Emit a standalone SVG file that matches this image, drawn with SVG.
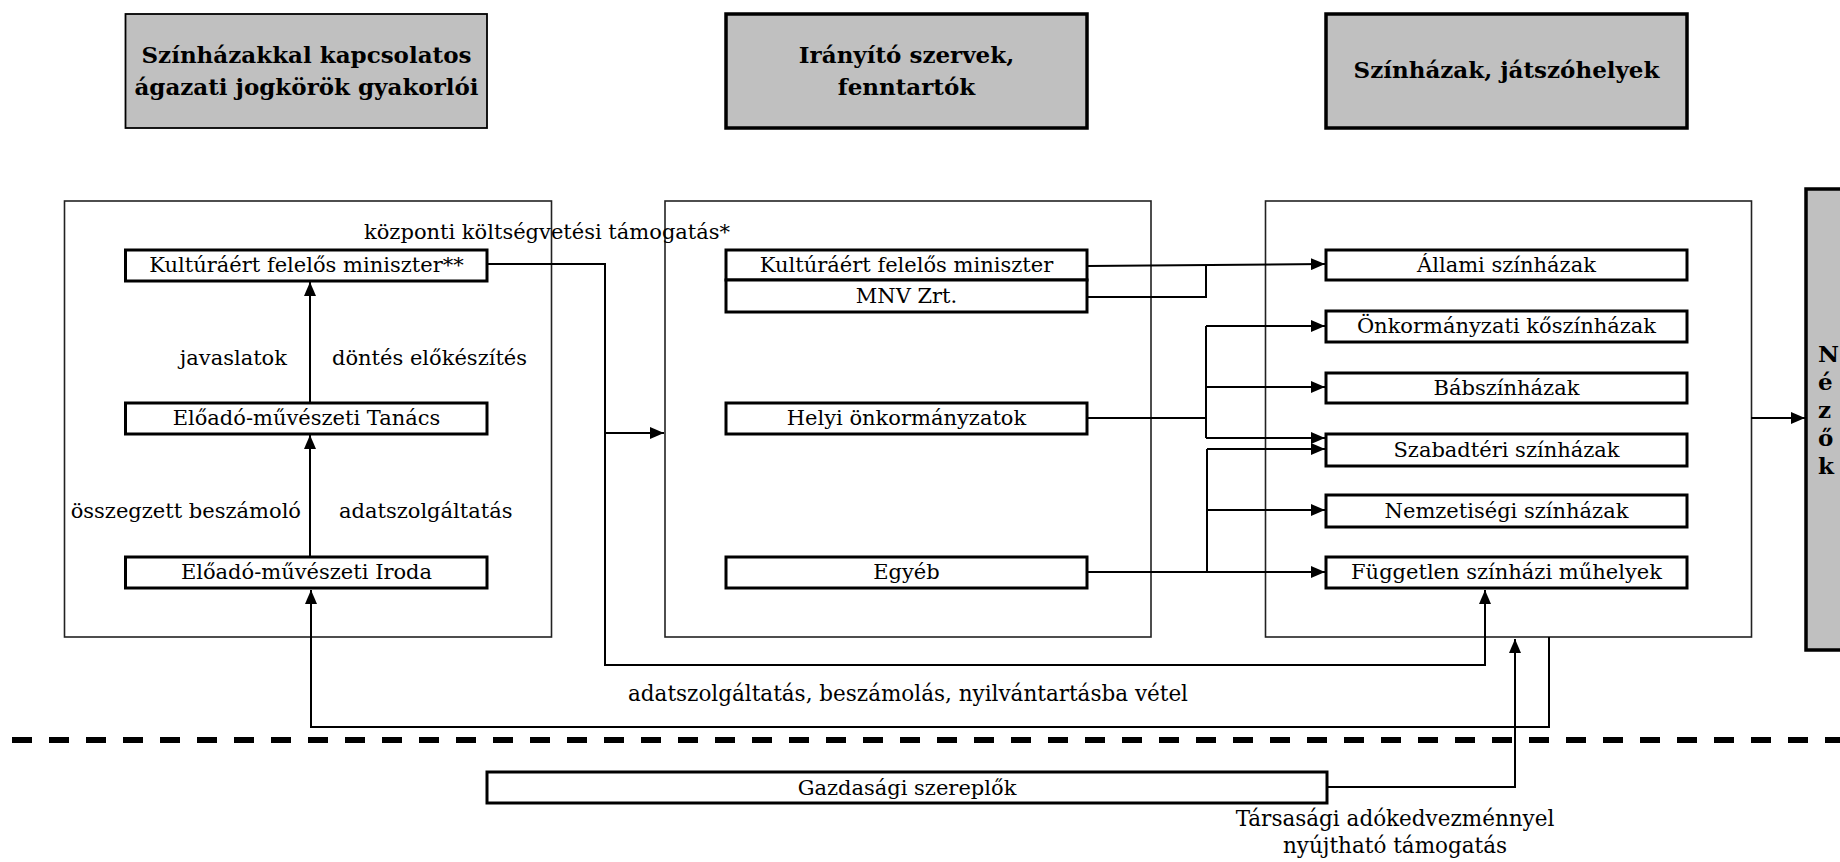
<svg xmlns="http://www.w3.org/2000/svg" width="1840" height="862" viewBox="0 0 1840 862">
<style>
.hdr{fill:#c0c0c0;stroke:#000}
.cont{fill:none;stroke:#222;stroke-width:1.6}
.node{fill:#fff;stroke:#000;stroke-width:3}
.t{font-family:"DejaVu Serif",serif;font-size:21px;fill:#000}
.c{text-anchor:middle}
.b{font-family:"DejaVu Serif",serif;font-size:23px;font-weight:bold;fill:#000;text-anchor:middle}
.nb{font-family:"DejaVu Serif",serif;font-size:23px;font-weight:bold;fill:#000}
.ln{fill:none;stroke:#000;stroke-width:2}
.ar{marker-end:url(#ah)}
</style>
<defs>
<marker id="ah" markerUnits="userSpaceOnUse" markerWidth="14" markerHeight="12" refX="14" refY="6" orient="auto">
<path d="M0,0 L14,6 L0,12 z" fill="#000"/>
</marker>
</defs>
<rect width="1840" height="862" fill="#fff"/>

<g id="hdr1"><rect class="hdr" x="125.5" y="14" width="361.5" height="114" stroke-width="1.8"/>
<text class="b" x="306.5" y="63">Színházakkal kapcsolatos</text>
<text class="b" x="306.5" y="95">ágazati jogkörök gyakorlói</text></g>
<g id="hdr2"><rect class="hdr" x="726" y="14" width="361" height="114" stroke-width="3.5"/>
<text class="b" x="906.5" y="63">Irányító szervek,</text>
<text class="b" x="906.5" y="95">fenntartók</text></g>
<g id="hdr3"><rect class="hdr" x="1326" y="14" width="361" height="114" stroke-width="3.5"/>
<text class="b" x="1506.5" y="78">Színházak, játszóhelyek</text></g>

<g id="contA"><rect class="cont" x="64.5" y="201" width="487" height="436"/></g>
<g id="contB"><rect class="cont" x="665" y="201" width="486" height="436"/></g>
<g id="contC"><rect class="cont" x="1265.5" y="201" width="486" height="436"/></g>

<g id="nezok"><rect class="hdr" x="1806" y="189" width="60" height="461" stroke-width="3.5"/>
<text class="nb" x="1818" y="362">N</text>
<text class="nb" x="1818" y="390">é</text>
<text class="nb" x="1818" y="418">z</text>
<text class="nb" x="1818" y="446">ő</text>
<text class="nb" x="1818" y="474">k</text></g>

<g id="a1"><rect class="node" x="125.5" y="250" width="361.5" height="31"/><text class="t c" x="306.5" y="272">Kultúráért felelős miniszter**</text></g>
<g id="a2"><rect class="node" x="125.5" y="403" width="361.5" height="31"/><text class="t c" x="306.5" y="425">Előadó-művészeti Tanács</text></g>
<g id="a3"><rect class="node" x="125.5" y="557" width="361.5" height="31"/><text class="t c" x="306.5" y="579">Előadó-művészeti Iroda</text></g>

<g id="b1"><rect class="node" x="726" y="250" width="361" height="30"/><text class="t c" x="906.5" y="272">Kultúráért felelős miniszter</text></g>
<g id="b2"><rect class="node" x="726" y="280" width="361" height="32"/><text class="t c" x="906.5" y="303">MNV Zrt.</text></g>
<g id="b3"><rect class="node" x="726" y="403" width="361" height="31"/><text class="t c" x="906.5" y="425">Helyi önkormányzatok</text></g>
<g id="b4"><rect class="node" x="726" y="557" width="361" height="31"/><text class="t c" x="906.5" y="579">Egyéb</text></g>

<g id="c1"><rect class="node" x="1326" y="250" width="361" height="30"/><text class="t c" x="1506.5" y="272">Állami színházak</text></g>
<g id="c2"><rect class="node" x="1326" y="311" width="361" height="31"/><text class="t c" x="1506.5" y="333">Önkormányzati kőszínházak</text></g>
<g id="c3"><rect class="node" x="1326" y="373" width="361" height="30"/><text class="t c" x="1506.5" y="395">Bábszínházak</text></g>
<g id="c4"><rect class="node" x="1326" y="434" width="361" height="32"/><text class="t c" x="1506.5" y="457">Szabadtéri színházak</text></g>
<g id="c5"><rect class="node" x="1326" y="495" width="361" height="32"/><text class="t c" x="1506.5" y="518">Nemzetiségi színházak</text></g>
<g id="c6"><rect class="node" x="1326" y="557" width="361" height="31"/><text class="t c" x="1506.5" y="579">Független színházi műhelyek</text></g>

<g id="gazd"><rect class="node" x="487" y="772" width="840" height="31"/><text class="t c" x="907" y="795">Gazdasági szereplők</text></g>

<g id="connectors">
<path class="ln ar" d="M310,403 V282"/>
<path class="ln ar" d="M310,557 V435"/>
<path class="ln ar" d="M487,264 H605 V665 H1485 V590"/>
<path class="ln ar" d="M605,433 H664"/>
<path class="ln ar" d="M1549,637 V727 H311 V590"/>
<path class="ln ar" d="M1087,266 L1325,264"/>
<path class="ln" d="M1087,297 H1206 V265"/>
<path class="ln" d="M1087,418 H1206 M1206,326 V438"/>
<path class="ln ar" d="M1206,326 H1325"/>
<path class="ln ar" d="M1206,387 H1325"/>
<path class="ln ar" d="M1206,438 H1325"/>
<path class="ln" d="M1087,572 H1207 M1207,449 V572"/>
<path class="ln ar" d="M1207,449 H1325"/>
<path class="ln ar" d="M1207,510 H1325"/>
<path class="ln ar" d="M1207,572 H1325"/>
<path class="ln ar" d="M1751,418 H1805"/>
<path class="ln ar" d="M1327,787 H1515 V639"/>
<path d="M12,740 H1840" fill="none" stroke="#000" stroke-width="6" stroke-dasharray="20 17"/>
</g>

<g id="labels">
<text class="t" x="364" y="239">központi költségvetési támogatás*</text>
<text class="t" x="287" y="365" text-anchor="end">javaslatok</text>
<text class="t" x="332" y="365">döntés előkészítés</text>
<text class="t" x="301" y="518" text-anchor="end">összegzett beszámoló</text>
<text class="t" x="339" y="518">adatszolgáltatás</text>
<text class="t c" x="908" y="701" style="font-size:21.5px">adatszolgáltatás, beszámolás, nyilvántartásba vétel</text>
<text class="t c" x="1395" y="826" style="font-size:21.5px">Társasági adókedvezménnyel</text>
<text class="t c" x="1395" y="853" style="font-size:21.5px">nyújtható támogatás</text>
</g>
</svg>
